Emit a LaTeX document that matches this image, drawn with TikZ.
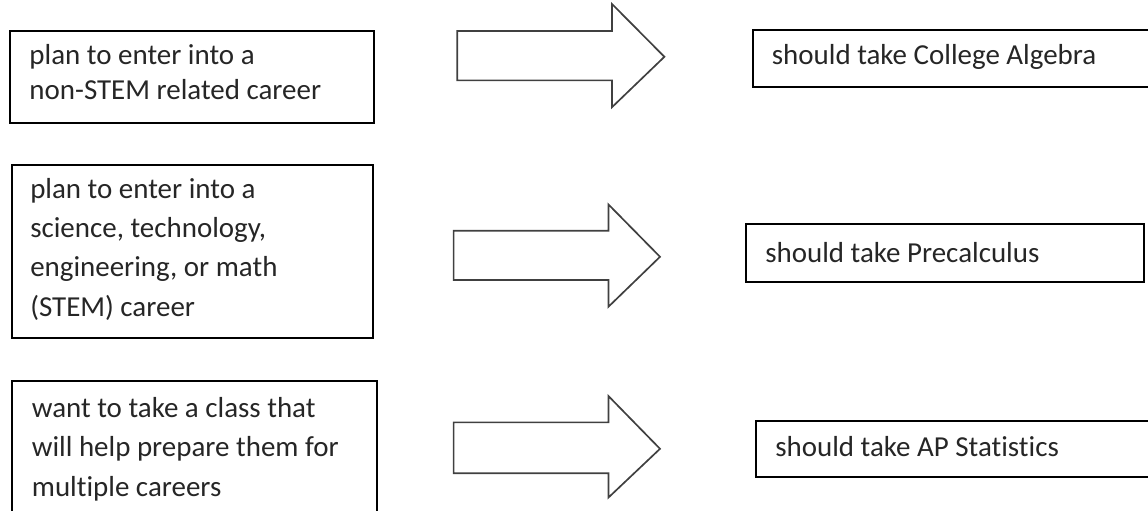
\documentclass[tikz,border=0pt]{standalone}
\usepackage{fontspec}
\setmainfont{Carlito}[Ligatures=NoCommon]
\usepackage{tikz}
\usetikzlibrary{positioning}

\begin{document}
\begin{tikzpicture}[
    txt/.style={anchor=base west, align=left, inner sep=0pt, text=black!85},
    tight/.style={font=\fontsize{20.6}{24.9}\selectfont},
    loose/.style={font=\fontsize{20.6}{27.8}\selectfont},
    blk/.style={draw=black!75, line width=1.2pt, line join=miter, fill=white}]
            \useasboundingbox (0,0) rectangle (28.7,12.75);
            \draw[black, line width=1.4pt] (0.25,11.975) rectangle (9.35,9.675); % non-STEM box
            \draw[black, line width=1.4pt] (0.3,8.625) rectangle (9.325,4.3); % STEM box
            \draw[black, line width=1.4pt] (0.3,3.225) rectangle (9.425,-0.5); % multiple careers box
            \draw[black, line width=1.4pt] (18.83,12.0) rectangle (29.0,10.58); % Algebra box
            \draw[black, line width=1.4pt] (18.64,7.14) rectangle (28.6,5.7); % Precalculus box
            \draw[black, line width=1.4pt] (18.89,2.23) rectangle (29.0,0.83); % Statistics box
            \draw[blk] (11.43,11.975) -- (15.3,11.975) -- (15.3,12.65) -- (16.61,11.33) -- (15.3,10.07) -- (15.3,10.74) -- (11.43,10.74) -- cycle; % top arrow
            \draw[blk] (11.34,6.98) -- (15.21,6.98) -- (15.21,7.64) -- (16.5,6.33) -- (15.21,5.08) -- (15.21,5.75) -- (11.34,5.75) -- cycle; % middle arrow
            \draw[blk] (11.34,2.19) -- (15.21,2.19) -- (15.21,2.85) -- (16.5,1.53) -- (15.21,0.31) -- (15.21,0.92) -- (11.34,0.92) -- cycle; % bottom arrow
            % multi-line nodes sit on their last baseline
            \node[txt, tight] (nonstem) at (0.73,10.25) {plan to enter into a \\ non-STEM related career};
            \node[txt, loose] (stem) at (0.75,4.85) {plan to enter into a \\ science, technology, \\ engineering, or math \\ (STEM) career};
            \node[txt, loose] (multi) at (0.79,0.35) {want to take a class that \\ will help prepare them for \\ multiple careers};
            \node[txt, tight] (algebra) at (19.29,11.125) {should take College Algebra};
            \node[txt, tight] (precalc) at (19.125,6.18) {should take Precalculus};
            \node[txt, tight] (stats) at (19.375,1.33) {should take AP Statistics};
        \end{tikzpicture}
\end{document}
